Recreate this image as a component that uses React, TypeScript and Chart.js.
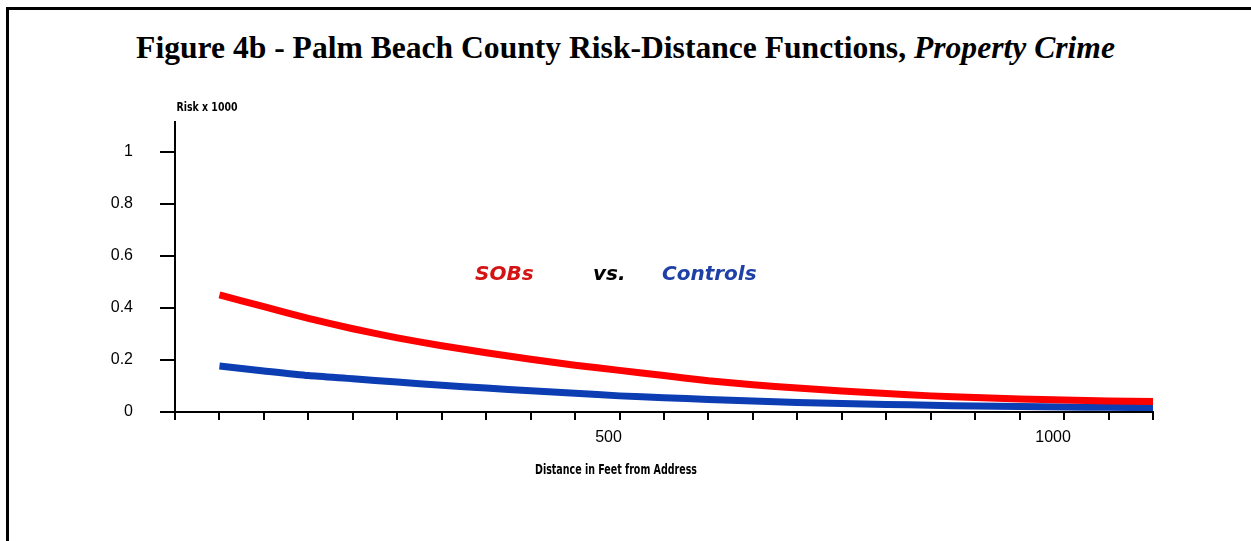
import React, { useEffect, useRef } from "react";
import { Chart, registerables } from "chart.js";

Chart.register(...registerables);

// ---- data ----
const distances = [50, 100, 150, 200, 250, 300, 350, 400, 450, 500, 550, 600, 650, 700, 750, 800, 850, 900, 950, 1000, 1050, 1100];
const sobsRisk = [0.45, 0.405, 0.36, 0.32, 0.285, 0.255, 0.228, 0.203, 0.18, 0.16, 0.14, 0.12, 0.105, 0.092, 0.081, 0.071, 0.062, 0.056, 0.05, 0.046, 0.042, 0.04];
const controlsRisk = [0.177, 0.158, 0.14, 0.128, 0.115, 0.103, 0.092, 0.082, 0.072, 0.062, 0.055, 0.048, 0.042, 0.037, 0.033, 0.029, 0.026, 0.023, 0.021, 0.019, 0.018, 0.017];
const yTickValues = [0, 0.2, 0.4, 0.6, 0.8, 1];
const xLabeledTicks = [500, 1000];
const xStep = 50;
const xMin = 0;
const xMax = 1100;
const yMax = 1.115;

const RED = "#ff0000";
const BLUE = "#0c3db3";

const textPlugin = {
  id: "extraText",
  afterDraw(chart: any) {
    const ctx = chart.ctx as CanvasRenderingContext2D;
    ctx.save();
    // axis titles (condensed)
    ctx.fillStyle = "#000";
    ctx.textAlign = "center";
    ctx.textBaseline = "middle";
    ctx.font = 'bold 14px "DejaVu Sans Condensed", "Liberation Sans", sans-serif';
    ctx.fillText("Distance in Feet from Address", 616, 470, 162);
    ctx.font = 'bold 13px "DejaVu Sans Condensed", "Liberation Sans", sans-serif';
    ctx.fillText("Risk x 1000", 207, 108, 61);

    // in-chart labels
    ctx.textAlign = "left";
    ctx.textBaseline = "alphabetic";
    ctx.font = 'italic bold 20px "DejaVu Sans", sans-serif';
    ctx.fillStyle = "#d41414";
    ctx.fillText("SOBs", 475, 280);
    ctx.fillStyle = "#000";
    ctx.fillText("vs.", 593, 280);
    ctx.fillStyle = "#1f40a6";
    ctx.fillText("Controls", 662, 280);
    ctx.restore();
  },
};

export default function App() {
  const canvasRef = useRef<HTMLCanvasElement | null>(null);

  useEffect(() => {
    if (!canvasRef.current) return;
    const chart = new Chart(canvasRef.current, {
      type: "line",
      data: {
        datasets: [
          {
            label: "SOBs",
            data: distances.map((d, i) => ({ x: d, y: sobsRisk[i] })),
            borderColor: RED,
            backgroundColor: RED,
            borderWidth: 7,
            pointRadius: 0,
            tension: 0.2,
            clip: false,
          },
          {
            label: "Controls",
            data: distances.map((d, i) => ({ x: d, y: controlsRisk[i] })),
            borderColor: BLUE,
            backgroundColor: BLUE,
            borderWidth: 7,
            pointRadius: 0,
            tension: 0.2,
            clip: false,
          },
        ],
      },
      options: {
        animation: false,
        responsive: false,
        maintainAspectRatio: false,
        layout: { padding: { top: 122, right: 98, left: 0, bottom: 0 } },
        plugins: {
          legend: { display: false },
          tooltip: { enabled: false },
          title: { display: false },
        },
        scales: {
          x: {
            type: "linear",
            min: xMin,
            max: xMax,
            afterBuildTicks: (s: any) => {
              const t = [];
              for (let v = xMin; v <= xMax; v += xStep) t.push({ value: v });
              s.ticks = t;
            },
            afterFit: (s: any) => {
              s.height = 129;
            },
            ticks: {
              autoSkip: false,
              maxRotation: 0,
              color: "#000",
              padding: 8,
              labelOffset: -11,
              font: { family: '"Liberation Sans", Arial, sans-serif', size: 16 },
              callback: (v: any) => (xLabeledTicks.includes(Number(v)) ? String(v) : ""),
            },
            grid: { drawOnChartArea: false, drawTicks: true, tickLength: 8, color: "#000", lineWidth: 2 },
            border: { display: true, color: "#000", width: 2 },
          },
          y: {
            type: "linear",
            min: 0,
            max: yMax,
            afterBuildTicks: (s: any) => {
              s.ticks = yTickValues.map((v) => ({ value: v }));
            },
            afterFit: (s: any) => {
              s.width = 175;
            },
            ticks: {
              color: "#000",
              padding: 27,
              font: { family: '"Liberation Sans", Arial, sans-serif', size: 16 },
              callback: (v: any) => String(v),
            },
            grid: { drawOnChartArea: false, drawTicks: true, tickLength: 15, color: "#000", lineWidth: 2 },
            border: { display: true, color: "#000", width: 2 },
          },
        },
      },
      plugins: [textPlugin],
    } as any);
    return () => chart.destroy();
  }, []);

  return (
    <div style={{ position: "fixed", left: 0, top: 0, width: 1251, height: 541, background: "#fff", overflow: "hidden" }}>
      <div
        style={{
          position: "absolute",
          left: 6,
          top: 7,
          right: -10,
          bottom: -10,
          borderLeft: "3px solid #000",
          borderTop: "3px solid #000",
        }}
      />
      <div
        style={{
          position: "absolute",
          left: 0,
          top: 30,
          width: 1251,
          textAlign: "center",
          fontFamily: '"Liberation Serif", "Times New Roman", serif',
          fontWeight: "bold",
          fontSize: 31.6,
          lineHeight: "36px",
          color: "#000",
          whiteSpace: "nowrap",
        }}
      >
        Figure 4b - Palm Beach County Risk-Distance Functions, <i>Property Crime</i>
      </div>
      <canvas ref={canvasRef} width={1251} height={541} style={{ position: "absolute", left: 0, top: 0 }} />
    </div>
  );
}
